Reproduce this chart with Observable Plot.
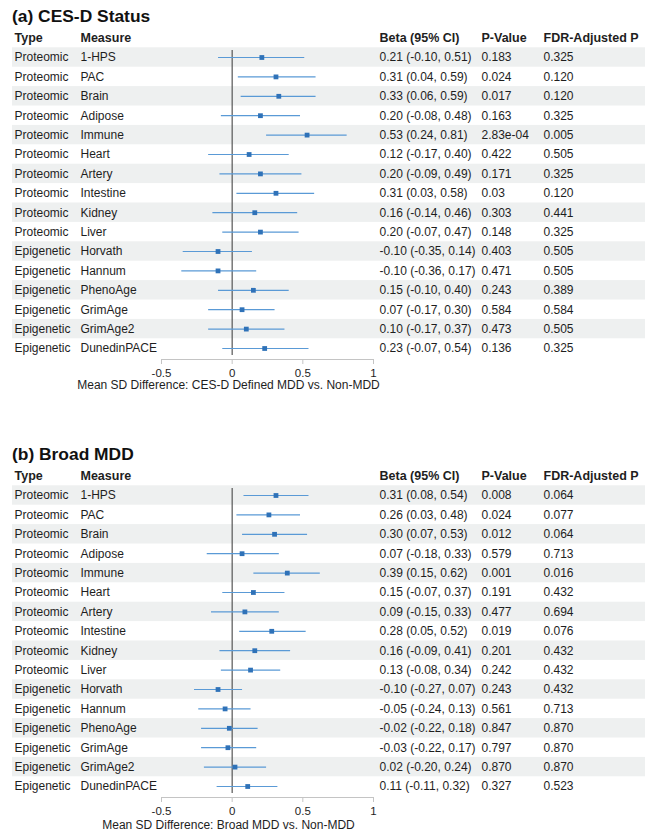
<!DOCTYPE html>
<html>
<head>
<meta charset="utf-8">
<script src="https://cdn.jsdelivr.net/npm/d3@7"></script>
<script src="https://cdn.jsdelivr.net/npm/@observablehq/plot@0.6"></script>
<style>
  body { margin: 0; background: #fff; font-family: "Liberation Sans", Arial, Helvetica, sans-serif; }
  .panel { position: relative; width: 653px; }
  .panel h2 { position: absolute; left: 12px; top: 8px; margin: 0; font-size: 17.4px; line-height: 1; font-weight: bold; color: #111; }
  .panel svg { display: block; }
</style>
</head>
<body>
<div id="panel-a" class="panel"><h2>(a) CES-D Status</h2></div>
<div id="panel-b" class="panel"><h2>(b) Broad MDD</h2></div>
<script>
// Clock types and measures (shared by both panels)
const types = ["Proteomic", "Proteomic", "Proteomic", "Proteomic", "Proteomic", "Proteomic", "Proteomic", "Proteomic", "Proteomic", "Proteomic",
  "Epigenetic", "Epigenetic", "Epigenetic", "Epigenetic", "Epigenetic", "Epigenetic"];
const measures = ["1-HPS", "PAC", "Brain", "Adipose", "Immune", "Heart", "Artery", "Intestine", "Kidney", "Liver",
  "Horvath", "Hannum", "PhenoAge", "GrimAge", "GrimAge2", "DunedinPACE"];

// (a) CES-D defined MDD vs. non-MDD
const cesdBeta = [0.21, 0.31, 0.33, 0.20, 0.53, 0.12, 0.20, 0.31, 0.16, 0.20, -0.10, -0.10, 0.15, 0.07, 0.10, 0.23];
const cesdLow  = [-0.10, 0.04, 0.06, -0.08, 0.24, -0.17, -0.09, 0.03, -0.14, -0.07, -0.35, -0.36, -0.10, -0.17, -0.17, -0.07];
const cesdHigh = [0.51, 0.59, 0.59, 0.48, 0.81, 0.40, 0.49, 0.58, 0.46, 0.47, 0.14, 0.17, 0.40, 0.30, 0.37, 0.54];
const cesdP    = ["0.183", "0.024", "0.017", "0.163", "2.83e-04", "0.422", "0.171", "0.03", "0.303", "0.148", "0.403", "0.471", "0.243", "0.584", "0.473", "0.136"];
const cesdFdr  = ["0.325", "0.120", "0.120", "0.325", "0.005", "0.505", "0.325", "0.120", "0.441", "0.325", "0.505", "0.505", "0.389", "0.584", "0.505", "0.325"];

// (b) Broad MDD vs. non-MDD
const broadBeta = [0.31, 0.26, 0.30, 0.07, 0.39, 0.15, 0.09, 0.28, 0.16, 0.13, -0.10, -0.05, -0.02, -0.03, 0.02, 0.11];
const broadLow  = [0.08, 0.03, 0.07, -0.18, 0.15, -0.07, -0.15, 0.05, -0.09, -0.08, -0.27, -0.24, -0.22, -0.22, -0.20, -0.11];
const broadHigh = [0.54, 0.48, 0.53, 0.33, 0.62, 0.37, 0.33, 0.52, 0.41, 0.34, 0.07, 0.13, 0.18, 0.17, 0.24, 0.32];
const broadP    = ["0.008", "0.024", "0.012", "0.579", "0.001", "0.191", "0.477", "0.019", "0.201", "0.242", "0.243", "0.561", "0.847", "0.797", "0.870", "0.327"];
const broadFdr  = ["0.064", "0.077", "0.064", "0.713", "0.016", "0.432", "0.694", "0.076", "0.432", "0.432", "0.432", "0.713", "0.870", "0.870", "0.870", "0.523"];

// Axis ticks and labels
const xTicks = [-0.5, 0, 0.5, 1];
const headers = {type: "Type", measure: "Measure", ci: "Beta (95% CI)", p: "P-Value", fdr: "FDR-Adjusted P"};
const axisLabelA = "Mean SD Difference: CES-D Defined MDD vs. Non-MDD";
const axisLabelB = "Mean SD Difference: Broad MDD vs. Non-MDD";

const fmt = v => v.toFixed(2);
function buildRows(beta, low, high, p, fdr) {
  return measures.map((m, i) => ({
    i, type: types[i], measure: m, beta: beta[i], lo: low[i], hi: high[i],
    ci: `${fmt(beta[i])} (${fmt(low[i])}, ${fmt(high[i])})`, p: p[i], fdr: fdr[i]
  }));
}

const FONT = '"Liberation Sans", Arial, Helvetica, sans-serif';
const INK = "#1e1e1e";
const ROW0 = 57, ROWSTEP = 19.4, AXIS_Y = 359, LEFT = 12;
const rowAt = px => (px - ROW0) / ROWSTEP;   // pixel offset → row units

function forest(rows, axisLabel, height, labelDy) {
  // text columns: key and left edge (px)
  const cols = [["type", 14], ["measure", 80], ["ci", 379], ["p", 481], ["fdr", 543]];
  const columnMarks = cols.flatMap(([key, px]) => [
    Plot.text([headers[key]], {y: () => rowAt(37), text: d => d, frameAnchor: "left", textAnchor: "start",
      dx: px - LEFT, fontWeight: "bold", fill: INK, fontSize: 12.5}),
    Plot.text(rows, {y: "i", text: key, frameAnchor: "left", textAnchor: "start",
      dx: px - LEFT, fill: INK, fontSize: 12})
  ]);
  return Plot.plot({
    width: 653,
    height,
    marginLeft: LEFT,
    marginRight: 8,
    marginTop: 0,
    marginBottom: height - AXIS_Y,
    style: {fontFamily: FONT, fontSize: "12px", color: INK, background: "white", overflow: "visible"},
    x: {domain: [-0.5, 1], range: [161, 373]},
    y: {domain: [0, 15], range: [ROW0, ROW0 + 15 * ROWSTEP], axis: null},
    marks: [
      // alternating row shading
      Plot.rect(rows.filter(d => d.i % 2 === 0), {y1: d => d.i - 0.5, y2: d => d.i + 0.5, fill: "#eef0f0"}),
      // null-effect reference line
      Plot.ruleX([0], {y1: rowAt(50), y2: rowAt(355), stroke: "#555", strokeWidth: 1.2}),
      // x axis line and ticks
      Plot.ruleY([rowAt(AXIS_Y)], {x1: xTicks[0], x2: xTicks[xTicks.length - 1], stroke: "#c4c4c4"}),
      Plot.axisX({ticks: xTicks, tickFormat: d => String(d), tickSize: 5, tickPadding: 4,
        stroke: "#c4c4c4", fill: INK, fontSize: 11.5, label: null}),
      Plot.text([axisLabel], {text: d => d, frameAnchor: "bottom-left", dx: 228 - LEFT, dy: labelDy,
        textAnchor: "middle", fill: INK, fontSize: 12}),
      // confidence intervals and point estimates
      Plot.link(rows, {x1: "lo", x2: "hi", y1: "i", y2: "i", stroke: "#5a9ad6", strokeWidth: 1.2}),
      Plot.dot(rows, {x: "beta", y: "i", symbol: "square", r: 2.7, fill: "#2f72b8", stroke: "none"}),
      ...columnMarks
    ]
  });
}

document.getElementById("panel-a").prepend(
  forest(buildRows(cesdBeta, cesdLow, cesdHigh, cesdP, cesdFdr), axisLabelA, 438, 29));
document.getElementById("panel-b").prepend(
  forest(buildRows(broadBeta, broadLow, broadHigh, broadP, broadFdr), axisLabelB, 401, 31));
</script>
</body>
</html>
